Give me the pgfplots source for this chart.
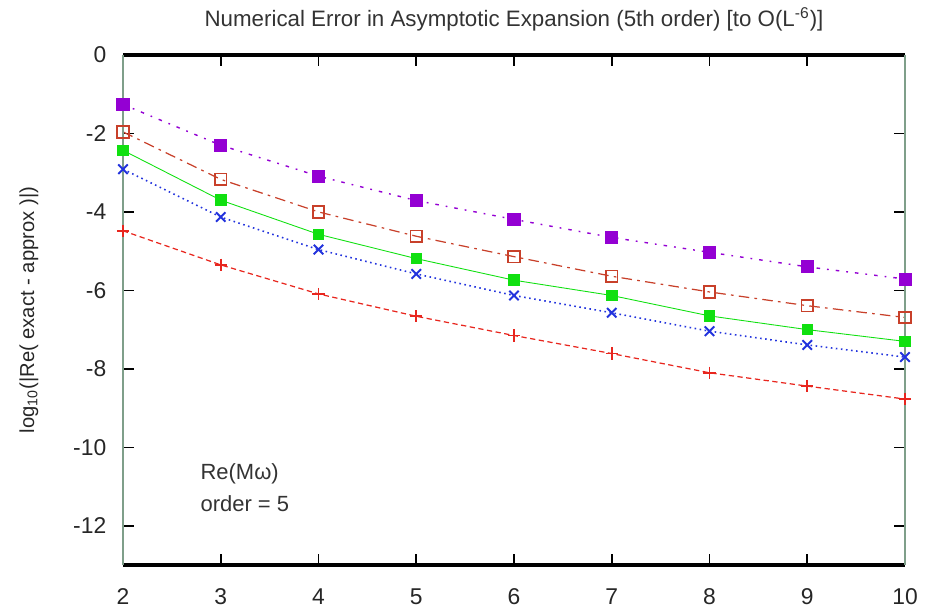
\documentclass[border=0pt]{standalone}
\usepackage{pgfplots}
\pgfplotsset{compat=1.18}
\usepackage{fontspec}
\setmainfont{Liberation Sans}
\definecolor{cpurple}{HTML}{9400D3}
\definecolor{csq}{HTML}{C8402A}
\definecolor{cgreen}{HTML}{10E010}
\definecolor{cblue}{HTML}{2233DD}
\definecolor{cred}{HTML}{E8261E}
\definecolor{cframe}{HTML}{7F9F8A}
\begin{document}
\begin{tikzpicture}
\begin{axis}[
  scale only axis,
  width=15.64cm, height=10.2cm,
  xmin=2, xmax=10, ymin=-13, ymax=0,
  xtick={2,3,4,5,6,7,8,9,10},
  xticklabels={2,3,4,5,6,7,8,9,10},
  ytick={0,-2,-4,-6,-8,-10,-12},
  yticklabels={0,-2,-4,-6,-8,-10,-12},
  tick align=inside,
  major tick length=6pt,
  xtick pos=both, ytick pos=both,
  tick style={black, line width=0.9pt},
  axis line style={draw=none},
  ticklabel style={font=\fontsize{13}{15}\selectfont, text=black!85},
  xticklabel style={yshift=-10pt},
  yticklabel style={xshift=-6pt},
  title={Numerical Error in Asymptotic Expansion (5th order) [to O(L\textsuperscript{-6})]},
  title style={font=\fontsize{12.7}{15}\selectfont, text=black!80, yshift=4pt},
  ylabel={log\textsubscript{10}(|Re( exact - approx )|)},
  ylabel style={at={(rel axis cs:0,0.5)}, anchor=center, rotate=0, yshift=1.88cm, font=\fontsize{11.5}{13}\selectfont, text=black!85},
  clip=false,
]
\addplot[cred, densely dashed, line width=0.7pt, mark=+, mark size=3.5pt, mark options={solid, line width=0.9pt}]
 coordinates {(2,-4.48) (3,-5.35) (4,-6.09) (5,-6.66) (6,-7.15) (7,-7.61) (8,-8.10) (9,-8.44) (10,-8.77)};
\addplot[cblue, dotted, line width=0.9pt, mark=x, mark size=3.8pt, mark options={solid, line width=1.1pt}]
 coordinates {(2,-2.91) (3,-4.13) (4,-4.96) (5,-5.58) (6,-6.13) (7,-6.57) (8,-7.04) (9,-7.39) (10,-7.70)};
\addplot[cgreen, solid, line width=0.5pt, mark=square*, mark size=3pt, mark options={solid}]
 coordinates {(2,-2.43) (3,-3.70) (4,-4.57) (5,-5.19) (6,-5.74) (7,-6.13) (8,-6.65) (9,-7.00) (10,-7.30)};
\addplot[csq, dash pattern=on 6pt off 3pt on 1.5pt off 3pt, line width=0.7pt, mark=square, mark size=3.3pt, mark options={solid, line width=1pt}]
 coordinates {(2,-1.96) (3,-3.17) (4,-4.00) (5,-4.62) (6,-5.14) (7,-5.64) (8,-6.04) (9,-6.39) (10,-6.69)};
\addplot[cpurple, dash pattern=on 2pt off 4pt on 1pt off 4pt, line width=0.8pt, mark=square*, mark size=3.3pt, mark options={solid}]
 coordinates {(2,-1.26) (3,-2.30) (4,-3.09) (5,-3.71) (6,-4.19) (7,-4.65) (8,-5.03) (9,-5.40) (10,-5.71)};
\node[anchor=west, inner sep=0pt, font=\fontsize{12.5}{15}\selectfont, text=black!80] at (axis cs:2.79,-10.68) {Re(Mω)};
\node[anchor=west, inner sep=0pt, font=\fontsize{12.5}{15}\selectfont, text=black!80] at (axis cs:2.79,-11.44) {order = 5};
\draw[black, line width=1.8pt] (rel axis cs:0,1) -- (rel axis cs:1,1);
\draw[black, line width=1.8pt] (rel axis cs:0,0) -- (rel axis cs:1,0);
\draw[cframe, line width=1.3pt] (rel axis cs:0,0) -- (rel axis cs:0,1);
\draw[cframe, line width=1.3pt] (rel axis cs:1,0) -- (rel axis cs:1,1);
\coordinate (ll) at (rel axis cs:0,0);
\coordinate (ur) at (rel axis cs:1,1);
\end{axis}
\pgfresetboundingbox
\path[use as bounding box] ([xshift=-2.46cm,yshift=-0.96cm]ll) rectangle ([xshift=0.5cm,yshift=1.1cm]ur);
\end{tikzpicture}
\end{document}
